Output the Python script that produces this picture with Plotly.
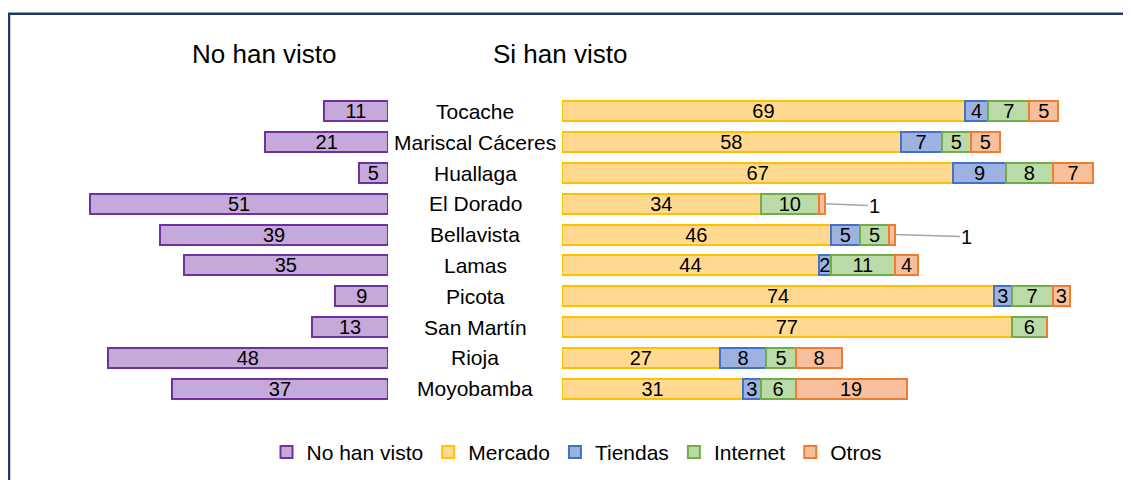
import plotly.graph_objects as go

# datos
provincias = ["Tocache", "Mariscal Cáceres", "Huallaga", "El Dorado", "Bellavista",
              "Lamas", "Picota", "San Martín", "Rioja", "Moyobamba"]
no_han_visto = [11, 21, 5, 51, 39, 35, 9, 13, 48, 37]
mercado = [69, 58, 67, 34, 46, 44, 74, 77, 27, 31]
tiendas = [4, 7, 9, 0, 5, 2, 3, 0, 8, 3]
internet = [7, 5, 8, 10, 5, 11, 7, 6, 5, 6]
otros = [5, 5, 7, 1, 1, 4, 3, 0, 8, 19]

# the page puts the figure 8px in from the top-left corner
OFF = 8
W, H = 1131, 480
PX = 5.84  # pixels per unit
LEFT_END = 388 - OFF
RIGHT_START = 562 - OFF
TOP, BOTTOM = 95.5 - OFF, 404.5 - OFF

FONT = "Liberation Sans, Arial, sans-serif"


def labels(vals, hide_small=False):
    out = []
    for v in vals:
        if v == 0 or (hide_small and v <= 1):
            out.append("")
        else:
            out.append(str(v))
    return out


fig = go.Figure()

fig.add_trace(go.Bar(
    y=provincias, x=no_han_visto, orientation="h", name="No han visto",
    xaxis="x", yaxis="y",
    marker=dict(color="#C5A9DB", line=dict(color="#7030A0", width=2)),
    text=labels(no_han_visto), textposition="inside", insidetextanchor="middle",
    textangle=0, constraintext="none",
    textfont=dict(size=20, color="black", family=FONT),
))

series = [
    ("Mercado", mercado, "#FFD98F", "#FFC000"),
    ("Tiendas", tiendas, "#9DB2E1", "#4472C4"),
    ("Internet", internet, "#BADBA8", "#70AD47"),
    ("Otros", otros, "#F7BF9C", "#ED7D31"),
]
for name, vals, fill, edge in series:
    fig.add_trace(go.Bar(
        y=provincias, x=vals, orientation="h", name=name,
        xaxis="x2", yaxis="y",
        marker=dict(color=fill, line=dict(color=edge, width=2)),
        text=labels(vals, hide_small=(name == "Otros")),
        textposition="inside", insidetextanchor="middle",
        textangle=0, constraintext="none",
        textfont=dict(size=20, color="black", family=FONT),
    ))

annotations = []
for p in provincias:
    annotations.append(dict(
        x=(475 - OFF) / W, xref="paper", y=p, yref="y", text=p, showarrow=False,
        xanchor="center", yanchor="middle",
        font=dict(size=21, color="black", family=FONT),
    ))


def ypaper(px):
    return (BOTTOM - (px - OFF)) / (BOTTOM - TOP)


annotations.append(dict(x=(264 - OFF) / W, xref="paper", y=ypaper(53), yref="paper",
                        text="No han visto", showarrow=False,
                        xanchor="center", yanchor="middle",
                        font=dict(size=26, color="black", family=FONT)))
annotations.append(dict(x=(560 - OFF) / W, xref="paper", y=ypaper(53), yref="paper",
                        text="Si han visto", showarrow=False,
                        xanchor="center", yanchor="middle",
                        font=dict(size=26, color="black", family=FONT)))

# etiquetas con linea guia para valores pequenos
for i, p in enumerate(provincias):
    if otros[i] == 1:
        total = mercado[i] + tiendas[i] + internet[i] + otros[i]
        off = 50 if p == "El Dorado" else 72
        annotations.append(dict(
            x=total, xref="x2", y=p, yref="y", text="1",
            showarrow=True, arrowhead=0, arrowcolor="#A6A6A6", arrowwidth=1.5,
            ax=off, ay=2, standoff=0,
            font=dict(size=20, color="black", family=FONT),
        ))

fig.update_layout(
    width=W, height=H,
    margin=dict(l=0, r=0, t=TOP, b=H - BOTTOM),
    barmode="stack", bargap=0.35,
    plot_bgcolor="white", paper_bgcolor="white",
    showlegend=True,
    legend=dict(orientation="h", x=(577 - OFF) / W, xanchor="center", y=ypaper(453),
                yanchor="middle", font=dict(size=21, color="black", family=FONT),
                itemwidth=30, traceorder="normal"),
    xaxis=dict(domain=[0, LEFT_END / W], range=[LEFT_END / PX, 0],
               showgrid=False, zeroline=False, showticklabels=False),
    xaxis2=dict(domain=[RIGHT_START / W, 1], range=[0, (W - RIGHT_START) / PX],
                showgrid=False, zeroline=False, showticklabels=False, anchor="y"),
    yaxis=dict(autorange="reversed", showgrid=False, zeroline=False,
               showticklabels=False, type="category"),
    annotations=annotations,
    shapes=[dict(type="rect", xref="paper", yref="paper",
                 x0=(9 - OFF) / W, x1=1.05, y0=-0.5, y1=ypaper(13),
                 line=dict(color="#203864", width=2.5))],
)

fig.write_html("out.html")
